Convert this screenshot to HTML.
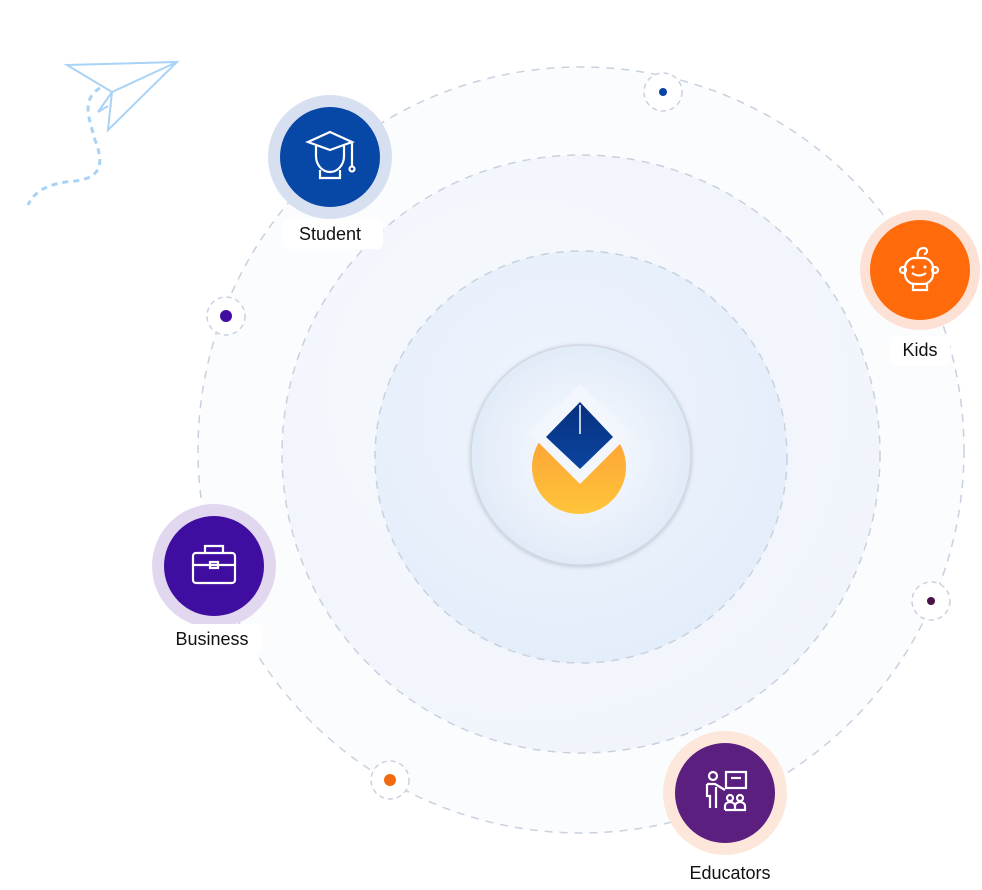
<!DOCTYPE html>
<html><head><meta charset="utf-8"><style>
html,body{margin:0;padding:0;background:#fff;}
svg{display:block}
text{font-family:"Liberation Sans",sans-serif;font-size:18px;fill:#111;font-weight:500}
</style></head><body>
<svg width="982" height="890" viewBox="0 0 982 890">
<defs>
<radialGradient id="mid" cx="0.4" cy="0.4" r="0.7">
<stop offset="0" stop-color="#f6f9fd"/><stop offset="1" stop-color="#f0f4fb"/></radialGradient>
<radialGradient id="inn" cx="0.45" cy="0.4" r="0.7">
<stop offset="0" stop-color="#f0f5fd"/><stop offset="1" stop-color="#e2ecfa"/></radialGradient>
<radialGradient id="cen" cx="0.5" cy="0.5" r="0.5">
<stop offset="0" stop-color="#fbfcff"/><stop offset="1" stop-color="#e1ebf8"/></radialGradient>
<linearGradient id="org" x1="0" y1="0" x2="0" y2="1">
<stop offset="0" stop-color="#fd9b35"/><stop offset="1" stop-color="#ffc53a"/></linearGradient>
<linearGradient id="blu" x1="0" y1="0" x2="0" y2="1">
<stop offset="0" stop-color="#06307f"/><stop offset="1" stop-color="#0b45a0"/></linearGradient>
<filter id="sh" x="-20%" y="-20%" width="140%" height="140%"><feDropShadow dx="0" dy="1" stdDeviation="2" flood-color="#9aa7bb" flood-opacity="0.6"/></filter>
</defs>
<circle cx="581" cy="450" r="383" fill="#fbfcfe" stroke="#c9d1df" stroke-width="1.5" stroke-dasharray="8 7"/>
<circle cx="581" cy="454" r="299" fill="url(#mid)" stroke="#c9d1df" stroke-width="1.5" stroke-dasharray="8 7"/>
<circle cx="581" cy="457" r="206" fill="url(#inn)" stroke="#c9d1df" stroke-width="1.5" stroke-dasharray="8 7"/>
<circle cx="581" cy="455" r="110" fill="url(#cen)" stroke="#d3d9e3" stroke-width="1.5" filter="url(#sh)"/>
<!-- logo -->
<circle cx="579" cy="467" r="47" fill="url(#org)"/>
<polygon points="580,484 530,434 580,384 630,434" fill="#f3f7fd"/>
<polygon points="580,402 613,437 580,469 546,437" fill="url(#blu)"/>
<line x1="580" y1="405" x2="580" y2="434" stroke="#fff" stroke-width="1.5"/>
<!-- small dots -->
<g fill="#fff" stroke="#c9d1df" stroke-width="1.5" stroke-dasharray="5 4">
<circle cx="663" cy="92" r="19"/><circle cx="226" cy="316" r="19"/><circle cx="931" cy="601" r="19"/><circle cx="390" cy="780" r="19"/></g>
<circle cx="663" cy="92" r="4" fill="#0b45a0"/>
<circle cx="226" cy="316" r="6" fill="#3f0ea0"/>
<circle cx="931" cy="601" r="4" fill="#4a1248"/>
<circle cx="390" cy="780" r="6" fill="#f26a0f"/>
<!-- plane -->
<g fill="none" stroke="#a9d3f6" stroke-width="2">
<polygon points="67,65 177,62 108,130 112,92"/>
<line x1="112" y1="92" x2="177" y2="62"/>
<polyline points="112,92 98,112 108,106"/>
<path d="M100,88 C80,100 90,120 95,140 C105,165 100,178 75,181 C50,183 35,190 28,205" stroke-dasharray="6 5" stroke-width="3"/>
</g>
<!-- Student -->
<circle cx="330" cy="157" r="62" fill="#d6e0f1"/>
<circle cx="330" cy="157" r="50" fill="#0747a6"/>
<g fill="none" stroke="#fff" stroke-width="2.2">
<polygon points="330,132 352,142 330,150 308,142"/>
<path d="M316,146 v10 a14,16 0 0 0 28,0 v-10"/>
<path d="M320,170 v8 h20 v-8"/><line x1="352" y1="142" x2="352" y2="166"/><circle cx="352" cy="169" r="2.5"/>
</g>
<rect x="283" y="219" width="100" height="30" rx="6" fill="#fff"/>
<text x="330" y="240" text-anchor="middle">Student</text>
<!-- Kids -->
<circle cx="920" cy="270" r="60" fill="#fde1d4"/>
<circle cx="920" cy="270" r="50" fill="#ff6a0b"/>
<g fill="none" stroke="#fff" stroke-width="2.2">
<rect x="905" y="258" width="28" height="26" rx="10"/><circle cx="903" cy="270" r="3"/><circle cx="935" cy="270" r="3"/>
<path d="M912,273 q7,5 14,0"/><path d="M913,284 v6 h14 v-6"/><path d="M918,258 q-2,-10 6,-10 a3,3 0 0 1 0,6"/>
</g>
<circle cx="913" cy="267" r="1.5" fill="#fff"/><circle cx="925" cy="267" r="1.5" fill="#fff"/>
<rect x="890" y="336" width="60" height="30" rx="6" fill="#fff"/>
<text x="920" y="356" text-anchor="middle">Kids</text>
<!-- Business -->
<circle cx="214" cy="566" r="62" fill="#e1d7ef"/>
<circle cx="214" cy="566" r="50" fill="#3f0ea0"/>
<g fill="none" stroke="#fff" stroke-width="2.2">
<rect x="193" y="553" width="42" height="30" rx="3"/><path d="M205,553 v-7 h18 v7"/><path d="M193,565 h42"/><rect x="210" y="562" width="8" height="6"/>
</g>
<rect x="162" y="624" width="100" height="30" rx="6" fill="#fff"/>
<text x="212" y="645" text-anchor="middle">Business</text>
<!-- Educators -->
<circle cx="725" cy="793" r="62" fill="#fde6da"/>
<circle cx="725" cy="793" r="50" fill="#5b1f80"/>
<g fill="none" stroke="#fff" stroke-width="2.2">
<rect x="726" y="772" width="20" height="16"/><line x1="731" y1="778" x2="741" y2="778"/>
<circle cx="713" cy="776" r="4"/><path d="M707,784 h8 l10,6 M707,784 v12 h3 v12 M716,787 v21"/>
<circle cx="730" cy="798" r="3"/><circle cx="740" cy="798" r="3"/><path d="M725,810 v-4 a5,4 0 0 1 10,0 v4 h-10 M735,810 v-4 a5,4 0 0 1 10,0 v4 h-10"/>
</g>
<rect x="672" y="857" width="116" height="33" fill="#fff"/>
<text x="730" y="879" text-anchor="middle">Educators</text>
</svg>
</body></html>
